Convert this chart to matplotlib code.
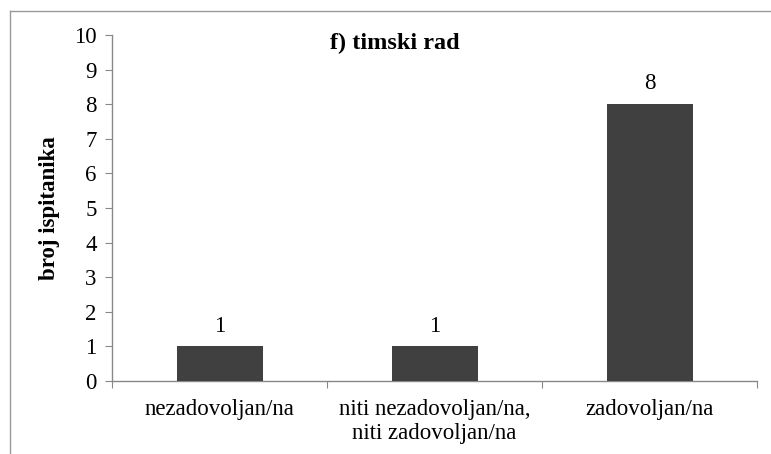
import matplotlib
matplotlib.use("Agg")
from matplotlib import pyplot as plt
from matplotlib.lines import Line2D

categories = ["nezadovoljan/na", "niti nezadovoljan/na,\nniti zadovoljan/na", "zadovoljan/na"]
counts = [1, 1, 8]
title = "f) timski rad"
ylabel = "broj ispitanika"

plt.rcParams['font.family'] = ['Liberation Serif', 'DejaVu Serif']

W, H = 771, 454
fs = 16.5
fig = plt.figure(figsize=(W / 100, H / 100), dpi=100)
ax = fig.add_axes([112 / W, 1 - 381 / H, (757 - 112) / W, (381 - 35) / H])

x = list(range(len(categories)))
ax.bar(x, counts, width=0.4, color="#404040", zorder=3)
for xi, v in zip(x, counts):
    ax.annotate(str(v), (xi, v), xytext=(0, 7), textcoords="offset points",
                ha="center", va="bottom", fontsize=fs)

ax.set_xlim(-0.5, len(categories) - 0.5)
ax.set_ylim(0, 10)
ax.set_yticks(range(0, 11))
ax.set_xticks([i - 0.5 for i in range(len(categories) + 1)], minor=False)
ax.set_xticklabels([])
ax.set_xticks(x, minor=True)
ax.set_xticklabels(categories, minor=True, fontsize=fs, linespacing=1.2)
ax.tick_params(axis="x", which="minor", length=0, pad=13)
ax.tick_params(axis="x", which="major", length=5, color="#888888", direction="out")
ax.tick_params(axis="y", length=5, color="#888888", labelsize=fs, pad=6)

for s in ["top", "right"]:
    ax.spines[s].set_visible(False)
for s in ["left", "bottom"]:
    ax.spines[s].set_color("#888888")
    ax.spines[s].set_linewidth(1)

ax.set_ylabel(ylabel, fontsize=fs, fontweight="bold", labelpad=10)
fig.text(395 / W, 1 - 43 / H, title, ha="center", va="center",
         fontsize=17.5, fontweight="bold")

# outer chart border (cut off at right and bottom)
fig.add_artist(Line2D([9.5 / W, 9.5 / W], [0, 1 - 11 / H], transform=fig.transFigure,
                      color="#999999", lw=1))
fig.add_artist(Line2D([9.5 / W, 1], [1 - 11 / H, 1 - 11 / H], transform=fig.transFigure,
                      color="#999999", lw=1))

fig.savefig("out.png", dpi=100)
